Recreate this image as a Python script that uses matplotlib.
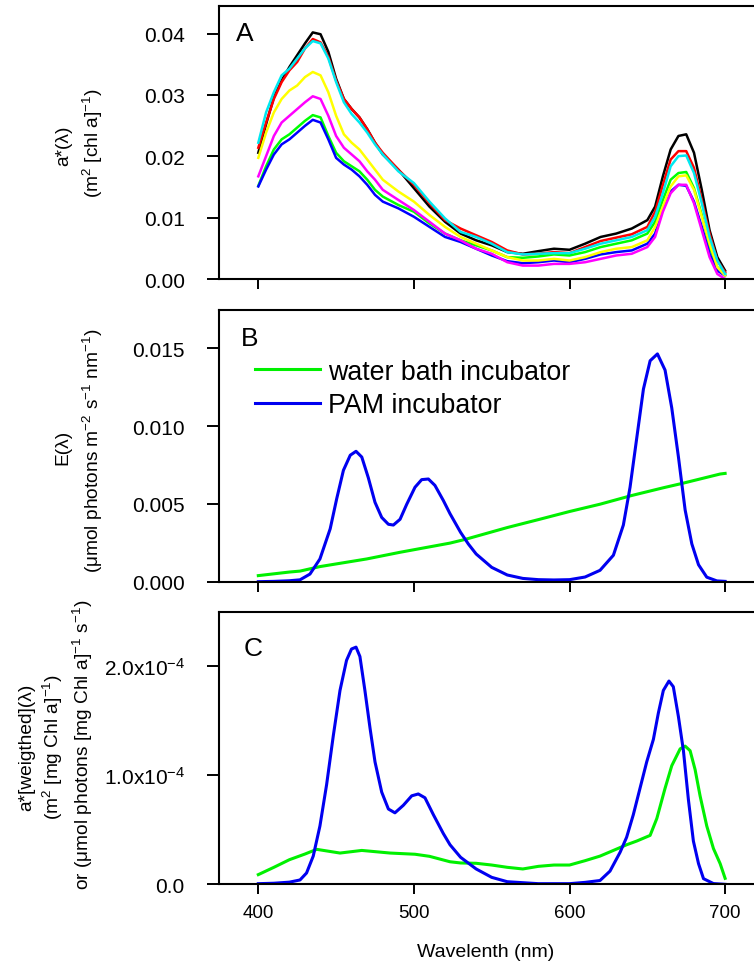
import matplotlib
matplotlib.use('Agg')
import numpy as np
import matplotlib.pyplot as plt
from matplotlib.lines import Line2D

plt.rcParams['font.family'] = ['Liberation Sans', 'DejaVu Sans']
plt.rcParams['mathtext.fontset'] = 'custom'
plt.rcParams['mathtext.rm'] = 'Liberation Sans'
plt.rcParams['mathtext.it'] = 'Liberation Sans:italic'
plt.rcParams['mathtext.bf'] = 'Liberation Sans:bold'

# ---------------- Panel A: a*(lambda), units 1e-3 m2 [chl a]-1 ----------------
wl_a = [400, 405, 410, 415, 420, 425, 430, 435, 440, 445, 450, 455, 460, 465, 470,
        475, 480, 490, 500, 510, 520, 530, 540, 550, 560, 570, 580, 590, 600, 610,
        620, 630, 640, 650, 655, 660, 665, 670, 675, 680, 685, 690, 695, 700]
a_black = [20.58, 25.24, 29.63, 32.37, 34.57, 36.49, 38.41, 40.20, 39.90, 37.04, 32.65,
           29.35, 27.71, 26.34, 24.42, 22.22, 20.30, 17.83, 14.81, 11.80, 9.33, 7.41,
           6.31, 5.49, 4.39, 4.12, 4.55, 4.94, 4.77, 5.76, 6.86, 7.41, 8.23, 9.60,
           11.80, 16.74, 21.12, 23.32, 23.59, 20.58, 14.54, 7.96, 3.57, 1.37]
a_red = [21.40, 25.51, 29.35, 32.10, 34.02, 35.39, 37.59, 39.12, 38.57, 36.21, 32.37,
         29.35, 27.71, 26.34, 24.42, 22.22, 20.58, 17.83, 15.36, 12.35, 9.60, 8.23,
         7.13, 6.04, 4.66, 4.01, 4.12, 4.39, 4.22, 5.21, 6.20, 6.75, 7.30, 8.50,
         10.97, 15.36, 19.48, 20.85, 20.85, 18.11, 12.89, 7.41, 3.02, 1.10]
a_cyan = [22.22, 27.16, 30.45, 33.20, 34.29, 35.94, 37.59, 38.79, 38.41, 35.94, 32.10,
          28.81, 26.89, 25.51, 23.87, 21.95, 20.30, 17.56, 15.64, 12.62, 9.88, 7.68,
          6.86, 5.76, 4.39, 4.01, 4.12, 4.22, 4.22, 4.94, 5.76, 6.31, 6.86, 7.96,
          10.15, 13.99, 18.38, 20.03, 20.14, 17.28, 12.35, 6.86, 3.02, 0.82]
a_yellow = [19.75, 23.87, 27.16, 29.35, 30.73, 31.55, 32.92, 33.75, 33.20, 30.45, 26.61,
            23.59, 22.22, 21.12, 19.48, 17.83, 16.19, 14.27, 12.62, 10.43, 8.50, 6.86,
            5.76, 4.66, 3.57, 3.02, 3.02, 3.29, 3.02, 3.57, 4.39, 4.94, 5.21, 6.31,
            8.50, 11.80, 15.09, 16.74, 16.90, 14.54, 10.15, 5.76, 1.92, 0.55]
a_magenta = [16.74, 20.03, 23.32, 25.51, 26.61, 27.71, 28.81, 29.79, 29.35, 26.61, 23.32,
             21.40, 20.30, 19.20, 17.56, 16.19, 14.54, 12.89, 11.25, 9.33, 7.41, 6.31,
             4.94, 4.12, 2.74, 2.19, 2.19, 2.47, 2.47, 2.74, 3.29, 3.84, 4.12, 5.21,
             6.86, 10.97, 13.99, 15.36, 15.36, 12.35, 7.96, 3.57, 0.82, 0.00]
a_green = [15.20, 18.38, 21.12, 22.77, 23.59, 24.69, 25.79, 26.72, 26.34, 23.32, 20.58,
           19.20, 18.38, 17.56, 16.19, 14.54, 13.44, 12.07, 10.97, 9.05, 7.41, 6.31,
           5.49, 4.66, 3.57, 3.46, 3.68, 4.01, 3.84, 4.39, 5.21, 5.76, 6.31, 7.41,
           9.33, 12.89, 16.19, 17.28, 17.45, 14.81, 10.43, 5.21, 1.92, 0.82]
a_blue = [15.09, 17.83, 20.30, 21.95, 22.77, 23.87, 24.97, 25.95, 25.51, 22.77, 19.75,
          18.66, 17.83, 16.74, 15.36, 13.72, 12.62, 11.52, 10.15, 8.50, 6.86, 6.04,
          4.94, 3.84, 2.91, 2.58, 2.74, 3.02, 2.74, 3.29, 4.01, 4.39, 4.66, 5.76,
          7.41, 11.52, 14.27, 15.36, 15.20, 12.62, 8.50, 4.12, 1.37, 0.55]

# ---------------- Panel B: E(lambda), units 1e-3 ----------------
wl_b_water = [400, 420, 426.8, 439.6, 469.6, 491.1, 523.2, 533, 560, 580, 600, 619.6,
              640, 660, 672.1, 696.8, 700]
e_water = [0.39, 0.62, 0.68, 0.97, 1.46, 1.89, 2.48, 2.72, 3.48, 3.99, 4.51, 4.98,
           5.54, 6.03, 6.31, 6.92, 6.96]
wl_b_pam = [400, 410, 420, 426.8, 433.2, 439.6, 446.2, 450.4, 454.7, 459.1, 462.8, 466.5,
            470.7, 475.0, 479.3, 483.6, 486.8, 491.1, 495.4, 500.7, 505.0, 509.3, 513.5,
            518.9, 523.2, 530, 535, 540, 550, 560, 570, 580, 590, 600, 610, 619.6,
            628.2, 634.6, 638.9, 643.2, 647.5, 651.8, 656.5, 661.4, 665.7, 670.0, 674.3,
            678.6, 682.9, 688.2, 694.7, 700]
e_pam = [0.00, 0.02, 0.06, 0.12, 0.49, 1.46, 3.40, 5.34, 7.16, 8.13, 8.38, 8.01,
         6.68, 5.10, 4.13, 3.69, 3.64, 4.01, 4.98, 6.07, 6.56, 6.60, 6.19,
         5.22, 4.37, 3.17, 2.42, 1.78, 0.92, 0.43, 0.21, 0.13, 0.11, 0.13, 0.30, 0.73,
         1.70, 3.64, 6.07, 9.23, 12.38, 14.20, 14.64, 13.60, 11.17, 8.01, 4.61,
         2.43, 1.09, 0.29, 0.05, 0.02]

# ---------------- Panel C: weighted a*, units 1e-5 ----------------
wl_c_pam = [400, 410, 420, 426.8, 431.0, 435.3, 439.6, 443.9, 448.2, 452.5, 456.7, 459.9,
            462.8, 465.3, 468.5, 471.8, 475.0, 479.3, 483.6, 487.8, 493.2, 498.6, 502.8,
            507.1, 512.5, 518.9, 523.2, 530, 540, 550, 560, 580, 600, 610, 619.6, 626.0,
            632.5, 636.7, 641.0, 645.3, 649.6, 653.9, 657.1, 660.3, 663.9, 666.7, 670.0,
            673.2, 676.4, 679.6, 682.9, 686.1, 692.5, 700]
c_pam = [0.06, 0.10, 0.20, 0.40, 1.04, 2.59, 5.35, 9.15, 13.64, 17.79, 20.55, 21.59,
         21.76, 20.90, 17.79, 14.33, 11.23, 8.46, 6.91, 6.56, 7.25, 8.12, 8.29,
         7.94, 6.39, 4.66, 3.63, 2.48, 1.41, 0.64, 0.24, 0.06, 0.06, 0.18, 0.35, 1.21,
         2.94, 4.32, 6.39, 8.81, 11.23, 13.30, 15.72, 17.79, 18.65, 18.13, 15.37,
         12.26, 7.77, 3.97, 1.90, 0.52, 0.07, 0.00]
wl_c_water = [400, 410, 420, 430, 437.5, 452.5, 466.5, 484.7, 500.7, 510, 523.2, 530, 540,
              550, 560, 570, 580, 590, 600, 610, 619.6, 628.2, 636.7, 643.2, 651.8, 656.1,
              661.4, 665.7, 671.1, 674.3, 677.5, 680.7, 683.9, 688.2, 692.5, 696.8, 700]
c_water = [0.89, 1.56, 2.26, 2.78, 3.21, 2.87, 3.11, 2.87, 2.76, 2.57, 2.07, 1.96, 1.93,
           1.77, 1.56, 1.41, 1.65, 1.77, 1.77, 2.17, 2.59, 3.11, 3.63, 3.97, 4.49, 6.04,
           8.81, 10.88, 12.43, 12.68, 12.26, 10.53, 8.12, 5.35, 3.28, 1.90, 0.55]

x_ticks = [400, 500, 600, 700]
yticks_a = [0.00, 0.01, 0.02, 0.03, 0.04]
yticks_b = [0.000, 0.005, 0.010, 0.015]
yticks_c = [0.0, 1.0e-4, 2.0e-4]
yticklabels_c = ['0.0', '1.0x10$^{-4}$', '2.0x10$^{-4}$']
legend_labels = ['water bath incubator', 'PAM incubator']

GREEN = '#00f000'
BLUE = '#0000f0'

fig = plt.figure(figsize=(7.54, 9.62), dpi=100)
left = 219 / 754
width = 0.7084
axA = fig.add_axes([left, 0.7089, width, 0.2838])
axB = fig.add_axes([left, 0.3943, width, 0.2827])
axC = fig.add_axes([left, 0.0797, width, 0.2827])


def style(ax, show_xlabels):
    ax.spines['right'].set_visible(False)
    for s in ['left', 'top', 'bottom']:
        ax.spines[s].set_linewidth(1.5)
    ax.set_xlim(374.74, 718.0)
    ax.set_xticks(x_ticks)
    ax.tick_params(axis='y', direction='out', length=8.6, width=1.4, pad=16,
                   labelsize=15, right=False)
    ax.tick_params(axis='x', direction='out', length=7.2, width=1.4, pad=7,
                   labelsize=13.5, top=False, labelbottom=show_xlabels)


# Panel A
wa = np.array(wl_a)
for ys, col in [(a_black, 'black'), (a_red, '#ff0000'), (a_green, '#00ff00'),
                (a_blue, '#0000ff'), (a_yellow, '#ffff00'), (a_magenta, '#ff00ff'),
                (a_cyan, '#00e8f0')]:
    axA.plot(wa, np.array(ys) * 1e-3, color=col, lw=1.8)
style(axA, False)
axA.set_ylim(0, 0.0445)
axA.set_yticks(yticks_a)
axA.set_yticklabels(['%.2f' % v for v in yticks_a])
axA.text(0.032, 0.945, 'A', transform=axA.transAxes, fontsize=19, ha='left', va='top')

# Panel B
axB.plot(np.array(wl_b_water), np.array(e_water) * 1e-3, color=GREEN, lw=2.2)
axB.plot(np.array(wl_b_pam), np.array(e_pam) * 1e-3, color=BLUE, lw=2.2)
style(axB, False)
axB.set_ylim(0, 0.01748)
axB.set_yticks(yticks_b)
axB.set_yticklabels(['%.3f' % v for v in yticks_b])
axB.text(0.041, 0.94, 'B', transform=axB.transAxes, fontsize=19, ha='left', va='top')
handles = [Line2D([], [], color=GREEN, lw=2.2), Line2D([], [], color=BLUE, lw=2.2)]
axB.legend(handles, legend_labels, loc='upper left', bbox_to_anchor=(0.068, 0.82),
           frameon=False, fontsize=19.3, handlelength=2.4, handletextpad=0.3,
           borderaxespad=0, borderpad=0, labelspacing=0.28)

# Panel C
axC.plot(np.array(wl_c_water), np.array(c_water) * 1e-5, color=GREEN, lw=2.2)
axC.plot(np.array(wl_c_pam), np.array(c_pam) * 1e-5, color=BLUE, lw=2.2)
style(axC, True)
axC.set_ylim(0, 2.495e-4)
axC.set_yticks(yticks_c)
axC.set_yticklabels(yticklabels_c)
axC.text(0.047, 0.913, 'C', transform=axC.transAxes, fontsize=19, ha='left', va='top')
axC.set_xlabel('Wavelenth (nm)', fontsize=14, labelpad=15.5)

# y labels (each line as its own text)
lab = dict(rotation=90, ha='center', va='center', fontsize=13.8)
H = 962.0
W = 754.0
fig.text(64 / W, 1 - 146 / H, 'a*(λ)', **lab)
fig.text(93 / W, 1 - 143 / H, '(m$^{2}$ [chl a]$^{-1}$)', **lab)
fig.text(63 / W, 1 - 447 / H, 'E(λ)', **lab)
fig.text(93 / W, 1 - 451 / H, '(μmol photons m$^{-2}$ s$^{-1}$ nm$^{-1}$)', **lab)
fig.text(27 / W, 1 - 747 / H, 'a*[weigthed](λ)', **lab)
fig.text(53 / W, 1 - 747 / H, '(m$^{2}$ [mg Chl a]$^{-1}$)', **lab)
fig.text(83 / W, 1 - 745 / H, 'or (μmol photons [mg Chl a]$^{-1}$ s$^{-1}$)', **lab)

fig.savefig('out.png', dpi=100)
